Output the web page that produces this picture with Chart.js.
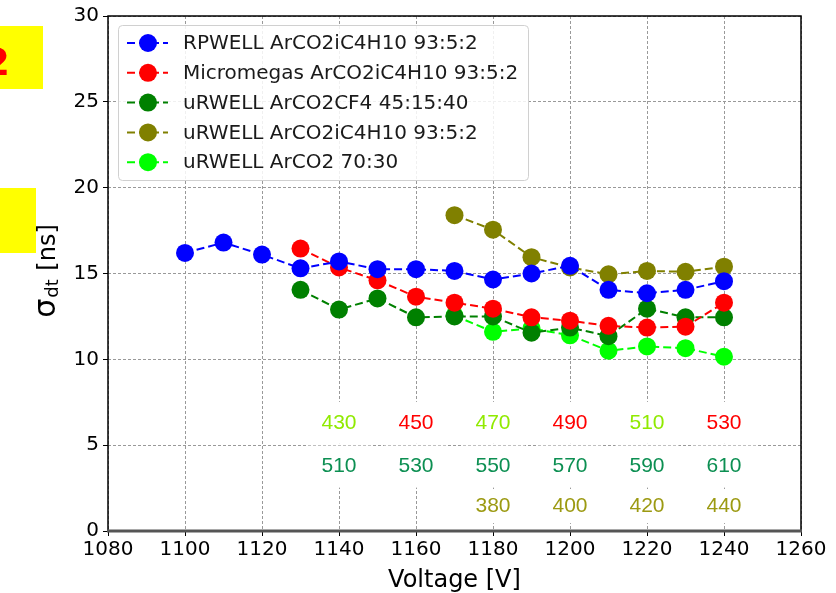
<!DOCTYPE html>
<html>
<head>
<meta charset="utf-8">
<script src="https://cdn.jsdelivr.net/npm/chart.js@4.4.0/dist/chart.umd.min.js"></script>
<style>
  html, body { margin: 0; padding: 0; background: #fff; }
  #wrap { width: 836px; height: 593px; }
</style>
</head>
<body>
<div id="wrap"><canvas id="sigmaChart" width="836" height="593"></canvas></div>
<script>
// voltages (x) per detector
const rpwellV = [1100, 1110, 1120, 1130, 1140, 1150, 1160, 1170, 1180, 1190, 1200, 1210, 1220, 1230, 1240];
const rpwellSigma = [16.2, 16.8, 16.1, 15.3, 15.7, 15.25, 15.25, 15.15, 14.65, 15.0, 15.45, 14.05, 13.85, 14.05, 14.55];

const mmV = [1130, 1140, 1150, 1160, 1170, 1180, 1190, 1200, 1210, 1220, 1230, 1240];
const mmSigma = [16.45, 15.35, 14.6, 13.65, 13.3, 12.95, 12.45, 12.25, 11.95, 11.85, 11.9, 13.3];

const cf4V = [1130, 1140, 1150, 1160, 1170, 1180, 1190, 1200, 1210, 1220, 1230, 1240];
const cf4Sigma = [14.05, 12.9, 13.55, 12.45, 12.5, 12.5, 11.55, 11.85, 11.35, 12.95, 12.45, 12.45];

const isoV = [1170, 1180, 1190, 1200, 1210, 1220, 1230, 1240];
const isoSigma = [18.4, 17.55, 15.95, 15.35, 14.95, 15.15, 15.1, 15.4];

const co2V = [1170, 1180, 1190, 1200, 1210, 1220, 1230, 1240];
const co2Sigma = [12.55, 11.6, 11.8, 11.4, 10.5, 10.75, 10.65, 10.15];

const seriesLabels = [
  'RPWELL ArCO2iC4H10 93:5:2',
  'Micromegas ArCO2iC4H10 93:5:2',
  'uRWELL ArCO2CF4 45:15:40',
  'uRWELL ArCO2iC4H10 93:5:2',
  'uRWELL ArCO2 70:30'
];
const seriesColors = ['#0000ff', '#ff0000', '#008000', '#808000', '#00ff00'];

// other-voltage annotations below the curves
const annoV = [1140, 1160, 1180, 1200, 1220, 1240];
const annoRow1 = ['430', '450', '470', '490', '510', '530'];
const annoRow2 = ['510', '530', '550', '570', '590', '610'];
const annoRow3V = [1180, 1200, 1220, 1240];
const annoRow3 = ['380', '400', '420', '440'];

const xTicks = [1080, 1100, 1120, 1140, 1160, 1180, 1200, 1220, 1240, 1260];
const yTicks = [0, 5, 10, 15, 20, 25, 30];

const FONT = "'DejaVu Sans', sans-serif";
const ANNO_FONT = "'Liberation Sans', Arial, sans-serif";

function pts(xs, ys) {
  return xs.map((x, i) => ({ x: x, y: ys[i] }));
}

const allData = [
  pts(rpwellV, rpwellSigma),
  pts(mmV, mmSigma),
  pts(cf4V, cf4Sigma),
  pts(isoV, isoSigma),
  pts(co2V, co2Sigma)
];

const datasets = allData.map((d, i) => ({
  label: seriesLabels[i],
  data: d,
  borderColor: seriesColors[i],
  backgroundColor: seriesColors[i],
  borderWidth: 2,
  borderDash: [8, 4],
  pointRadius: 9,
  pointHoverRadius: 9,
  pointBorderWidth: 0,
  tension: 0
}));

// annotations, side boxes, frame, y title and legend
const extras = {
  id: 'extras',
  beforeDatasetsDraw(chart) {
    const ctx = chart.ctx;
    const xs = chart.scales.x, ys = chart.scales.y;
    ctx.save();
    ctx.font = '21px ' + ANNO_FONT;
    ctx.textAlign = 'center';
    ctx.textBaseline = 'middle';
    const box = (x, y, txt, col, h) => {
      ctx.fillStyle = '#fff';
      ctx.fillRect(x - 32, y - h / 2, 64, h);
      ctx.fillStyle = col;
      ctx.fillText(txt, x, y);
    };
    annoV.forEach((v, i) => {
      const x = xs.getPixelForValue(v);
      box(x, ys.getPixelForValue(6.3), annoRow1[i], i % 2 === 0 ? '#90ea00' : '#ff0000', 42);
      box(x, ys.getPixelForValue(3.75), annoRow2[i], '#0c8f52', 42);
    });
    annoRow3V.forEach((v, i) => {
      box(xs.getPixelForValue(v), ys.getPixelForValue(1.45), annoRow3[i], '#9c9a12', 34);
    });
    ctx.restore();
  },
  afterDraw(chart) {
    const ctx = chart.ctx;
    const a = chart.chartArea;
    ctx.save();
    // frame
    ctx.strokeStyle = '#000';
    ctx.lineWidth = 1.5;
    ctx.beginPath();
    ctx.moveTo(a.left, a.bottom);
    ctx.lineTo(a.left, a.top);
    ctx.lineTo(a.right, a.top);
    ctx.lineTo(a.right, a.bottom);
    ctx.stroke();
    ctx.strokeStyle = '#555';
    ctx.lineWidth = 3;
    ctx.beginPath();
    ctx.moveTo(a.left - 1, a.bottom);
    ctx.lineTo(a.right + 1, a.bottom);
    ctx.stroke();

    // yellow boxes at the left edge
    ctx.fillStyle = '#ffff00';
    ctx.fillRect(0, 26, 43, 63);
    ctx.fillRect(0, 188, 36, 65);
    ctx.fillStyle = '#ff0000';
    ctx.font = 'bold 38px ' + FONT;
    ctx.textAlign = 'right';
    ctx.textBaseline = 'alphabetic';
    ctx.fillText('2', 10, 75);
    ctx.fillStyle = '#ff9900';
    ctx.fillText('.', 2, 238);

    // y title: sigma_dt [ns]
    ctx.fillStyle = '#000';
    ctx.translate(55, 272);
    ctx.rotate(-Math.PI / 2);
    ctx.textAlign = 'left';
    ctx.textBaseline = 'alphabetic';
    const s1 = 'σ', s2 = 'dt', s3 = ' [ns]';
    ctx.font = '30px ' + FONT;
    const w1 = ctx.measureText(s1).width;
    ctx.font = '18px ' + FONT;
    const w2 = ctx.measureText(s2).width;
    ctx.font = '24px ' + FONT;
    const w3 = ctx.measureText(s3).width;
    const x0 = -(w1 + w2 + w3) / 2;
    ctx.font = '30px ' + FONT;
    ctx.fillText(s1, x0, 0);
    ctx.font = '18px ' + FONT;
    ctx.fillText(s2, x0 + w1 + 1, 3);
    ctx.font = '24px ' + FONT;
    ctx.fillText(s3, x0 + w1 + w2 + 2, 0);
    ctx.setTransform(1, 0, 0, 1, 0, 0);

    // x title
    ctx.textAlign = 'center';
    ctx.font = '24px ' + FONT;
    ctx.fillText('Voltage [V]', (a.left + a.right) / 2, 587);

    // legend
    ctx.fillStyle = 'rgba(255,255,255,0.85)';
    ctx.strokeStyle = '#d0d0d0';
    ctx.lineWidth = 1;
    ctx.beginPath();
    ctx.roundRect(118.5, 25.5, 410, 155, 4);
    ctx.fill();
    ctx.stroke();
    ctx.font = '20px ' + FONT;
    ctx.textAlign = 'left';
    ctx.textBaseline = 'middle';
    seriesLabels.forEach((lab, i) => {
      const y = 43 + i * 29.8;
      ctx.strokeStyle = seriesColors[i];
      ctx.lineWidth = 2;
      ctx.setLineDash([8, 4]);
      ctx.beginPath();
      ctx.moveTo(127, y);
      ctx.lineTo(168, y);
      ctx.stroke();
      ctx.setLineDash([]);
      ctx.fillStyle = seriesColors[i];
      ctx.beginPath();
      ctx.arc(148, y, 9, 0, Math.PI * 2);
      ctx.fill();
      ctx.fillStyle = '#1a1a1a';
      ctx.fillText(lab, 183, y + 1);
    });
    ctx.restore();
  }
};

const gridOpts = {
  color: '#999',
  lineWidth: 1,
  tickColor: '#000',
  tickBorderDash: [],
  tickLength: 5
};

const ctx = document.getElementById('sigmaChart');

new Chart(ctx, {
  type: 'line',
  data: { datasets: datasets },
  options: {
    responsive: false,
    devicePixelRatio: 1,
    animation: false,
    layout: { padding: { left: 0, top: 14, right: 35, bottom: 0 } },
    plugins: {
      legend: { display: false },
      tooltip: { enabled: false }
    },
    scales: {
      x: {
        type: 'linear',
        min: 1080,
        max: 1260,
        afterBuildTicks: (s) => { s.ticks = xTicks.map(v => ({ value: v })); },
        afterFit: (s) => { s.height = 62; },
        grid: gridOpts,
        border: { display: false, dash: [3, 2] },
        ticks: {
          color: '#000',
          font: { family: FONT, size: 20 },
          padding: 2,
          maxRotation: 0,
          callback: (v) => String(v)
        }
      },
      y: {
        min: 0,
        max: 30,
        afterBuildTicks: (s) => { s.ticks = yTicks.map(v => ({ value: v })); },
        afterFit: (s) => { s.width = 108; },
        grid: gridOpts,
        border: { display: false, dash: [3, 2] },
        ticks: { color: '#000', font: { family: FONT, size: 20 }, padding: 4, callback: (v) => String(v) }
      }
    }
  },
  plugins: [extras]
});
</script>
</body>
</html>
